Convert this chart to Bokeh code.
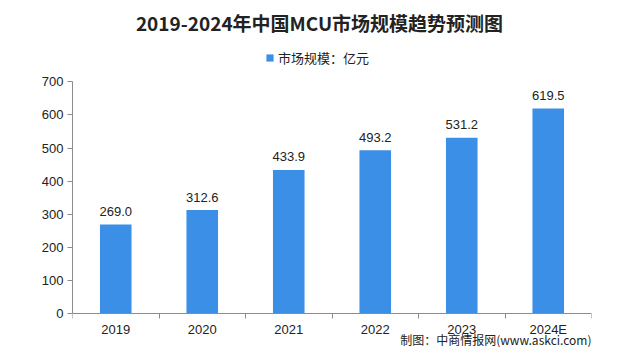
from bokeh.plotting import figure
from bokeh.models import (ColumnDataSource, FixedTicker, Label, Legend, LegendItem, Range1d)
from bokeh.embed import file_html
from bokeh.resources import INLINE
from bokeh.core.properties import value

categories = ["2019", "2020", "2021", "2022", "2023", "2024E"]
values = [269.0, 312.6, 433.9, 493.2, 531.2, 619.5]
y_ticks = [0, 100, 200, 300, 400, 500, 600, 700]
title_text = "2019-2024年中国MCU市场规模趋势预测图"
legend_text = "市场规模：亿元"
source_text = "制图：中商情报网(www.askci.com)"

BAR = "#3b8fe6"
W, H = 624, 347
LEFT, RIGHT = 72, 33
AXIS_Y = 313           # canvas pixel row of the value 0
AXIS_PX = 231.6        # pixel length of the 0..700 value axis
UPP = 700 / AXIS_PX    # value units per pixel
Y_START = -(H - AXIS_Y) * UPP
Y_END = AXIS_Y * UPP
FRAME_W = W - LEFT - RIGHT

xs = [i + 0.5 for i in range(len(categories))]
src = ColumnDataSource(dict(x=xs, top=values, cat=categories,
                            lab=["%.1f" % v for v in values]))

p = figure(width=W, height=H, output_backend="svg", toolbar_location=None,
           x_range=Range1d(0, len(categories)), y_range=Range1d(Y_START, Y_END),
           min_border_left=LEFT, min_border_right=RIGHT, min_border_top=0,
           min_border_bottom=0)
p.outline_line_color = None
p.xgrid.visible = False
p.ygrid.visible = False

r = p.vbar(x="x", top="top", bottom=0, width=0.365, source=src,
           fill_color=BAR, line_color=None)
p.text(x="x", y="top", text="lab", source=src, text_align="center",
       text_baseline="alphabetic", y_offset=-13, text_font_size="13px",
       text_color="#222222", text_font=value("Liberation Sans"))

# y axis
p.yaxis.ticker = FixedTicker(ticks=y_ticks)
p.yaxis.bounds = (0, 700)
p.yaxis.axis_line_color = "#8c8c8c"
p.yaxis.major_tick_line_color = "#8c8c8c"
p.yaxis.major_tick_in = 0
p.yaxis.major_tick_out = 5
p.yaxis.minor_tick_line_color = None
p.yaxis.major_label_standoff = 4
p.yaxis.major_label_text_font = "Liberation Sans"
p.yaxis.major_label_text_font_size = "13px"
p.yaxis.major_label_text_color = "#222222"

# x axis at value 0: labels at centers, tick marks at boundaries
p.xaxis.fixed_location = 0
p.xaxis.ticker = FixedTicker(ticks=xs, minor_ticks=list(range(len(categories) + 1)))
p.xaxis.major_label_overrides = {x: c for x, c in zip(xs, categories)}
p.xaxis.axis_line_color = "#8c8c8c"
p.xaxis.major_tick_line_color = None
p.xaxis.minor_tick_line_color = "#8c8c8c"
p.xaxis.minor_tick_in = 0
p.xaxis.minor_tick_out = 5
p.xaxis.major_label_standoff = 2
p.xaxis.major_label_text_font = "Liberation Sans"
p.xaxis.major_label_text_font_size = "13px"
p.xaxis.major_label_text_color = "#222222"

p.add_layout(Label(x=247, y=H - 22, x_units="screen", y_units="screen",
                   text=title_text, text_align="center", text_baseline="middle",
                   text_font="Noto Sans CJK SC", text_font_style="bold",
                   text_font_size="19px", text_color="#222222"))

legend = Legend(items=[LegendItem(label=legend_text, renderers=[r])],
                location=(193, H - 67), orientation="horizontal",
                label_text_font="Noto Sans CJK SC", label_text_font_size="13px",
                label_text_color="#222222", glyph_width=9, glyph_height=9,
                label_standoff=4, padding=0, margin=0, border_line_color=None,
                background_fill_alpha=0)
p.add_layout(legend, "center")

p.add_layout(Label(x=FRAME_W, y=0, x_units="screen", y_units="screen",
                   text=source_text, text_align="right", text_baseline="bottom",
                   text_font="Noto Sans CJK SC", text_font_size="12px",
                   text_color="#222222"))

open("out.html", "w").write(file_html(p, INLINE))
